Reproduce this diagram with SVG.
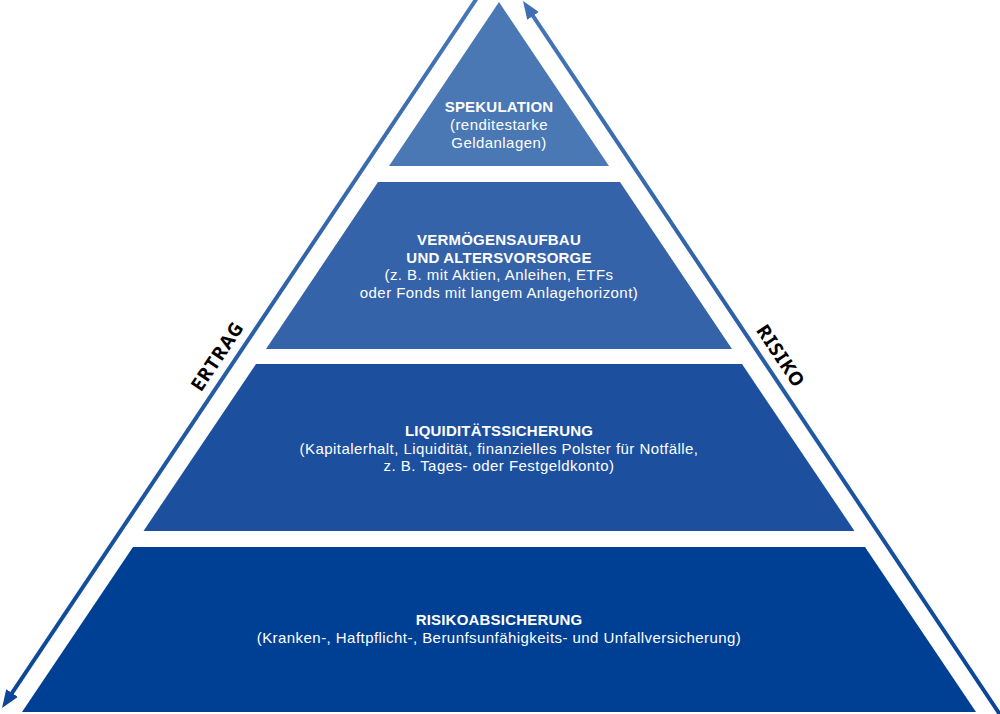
<svg xmlns="http://www.w3.org/2000/svg" width="1000" height="714" viewBox="0 0 1000 714">
  <style>
    .t { font-family: "Liberation Sans", Arial, sans-serif; font-size: 15px; fill: #ffffff; text-anchor: middle; letter-spacing: 0.45px; }
    .b { font-weight: bold; letter-spacing: 0.2px; }
    .side { font-family: "Noto Sans", "Liberation Sans", sans-serif; font-size: 19px; font-weight: bold; fill: #000000; text-anchor: middle; letter-spacing: 1px; }
    .arrowline { fill: none; stroke: url(#lg); stroke-width: 4; }
  </style>
  <defs>
    <linearGradient id="lg" gradientUnits="userSpaceOnUse" x1="0" y1="0" x2="0" y2="714">
      <stop offset="0" stop-color="#4676b5"/>
      <stop offset="1" stop-color="#0a4498"/>
    </linearGradient>
    <marker id="headDark" markerUnits="userSpaceOnUse" markerWidth="20" markerHeight="16" refX="8" refY="7" orient="auto">
      <path d="M0,0 L18,7 L0,14 z" fill="#0d4699"/>
    </marker>
    <marker id="headLight" markerUnits="userSpaceOnUse" markerWidth="20" markerHeight="16" refX="8" refY="7" orient="auto">
      <path d="M0,0 L18,7 L0,14 z" fill="#3f6fb2"/>
    </marker>
  </defs>

  <rect width="1000" height="714" fill="#ffffff"/>

  <g id="connectors">
    <path class="arrowline" d="M477,-2 L7.6,699.7" marker-end="url(#headDark)"/>
    <path class="arrowline" d="M1001,716 L528.6,9.3" marker-end="url(#headLight)"/>
  </g>

  <g id="spekulation">
    <polygon points="499,2 609,166 389,166" fill="#4a78b5"/>
    <text class="t b" x="499" y="112">SPEKULATION</text>
    <text class="t" x="499" y="130">(renditestarke</text>
    <text class="t" x="499" y="148">Geldanlagen)</text>
  </g>

  <g id="vermoegensaufbau">
    <polygon points="378,182 620,182 732,349 266,349" fill="#3463aa"/>
    <text class="t b" x="499" y="245">VERMÖGENSAUFBAU</text>
    <text class="t b" x="499" y="262.5">UND ALTERSVORSORGE</text>
    <text class="t" x="499" y="280">(z. B. mit Aktien, Anleihen, ETFs</text>
    <text class="t" x="499" y="297.5">oder Fonds mit langem Anlagehorizont)</text>
  </g>

  <g id="liquiditaet">
    <polygon points="256,364 742,364 854.5,531 143.5,531" fill="#1c509f"/>
    <text class="t b" x="499" y="436">LIQUIDITÄTSSICHERUNG</text>
    <text class="t" x="499" y="453.5">(Kapitalerhalt, Liquidität, finanzielles Polster für Notfälle,</text>
    <text class="t" x="499" y="471">z. B. Tages- oder Festgeldkonto)</text>
  </g>

  <g id="risikoabsicherung">
    <polygon points="133,547 865,547 976,712 22,712" fill="#004094"/>
    <text class="t b" x="499" y="625">RISIKOABSICHERUNG</text>
    <text class="t" x="499" y="643">(Kranken-, Haftpflicht-, Berunfsunfähigkeits- und Unfallversicherung)</text>
  </g>

  <g id="ertrag">
    <text class="side" transform="translate(217,356) rotate(-56.3)" y="7">ERTRAG</text>
  </g>
  <g id="risiko">
    <text class="side" transform="translate(781,356) rotate(56.3)" y="7">RISIKO</text>
  </g>
</svg>
